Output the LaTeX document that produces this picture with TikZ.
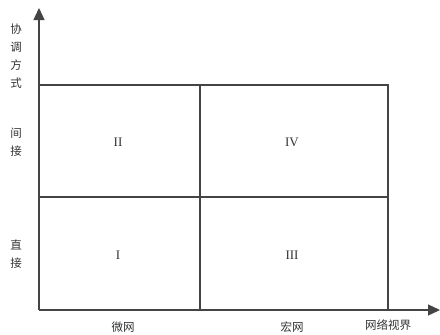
\documentclass[tikz,border=0pt]{standalone}
\usepackage{fontspec}
\newfontfamily\cjk{Noto Sans CJK SC}
\setmainfont{Liberation Serif}
\usetikzlibrary{arrows.meta}
\definecolor{ln}{HTML}{444444}
\definecolor{tx}{HTML}{333333}
\tikzset{
  axis/.style={draw=ln, line width=1.3pt, -{Triangle[length=12pt,width=11pt]}},
  grid/.style={draw=ln, line width=1.1pt},
  lbl/.style={text=tx, font=\cjk\fontsize{11.5}{13}\selectfont, inner sep=0pt},
  rom/.style={text=tx, font=\fontsize{13}{15}\selectfont, inner sep=0pt}
}
\begin{document}
\begin{tikzpicture}[x=1pt,y=-1pt]
\useasboundingbox (0,0) rectangle (440,335);
\coordinate (o) at (39,310);
\coordinate (ytip) at (39,8);
\coordinate (xtip) at (440,310);
\coordinate (tl) at (39,85);
\coordinate (tr) at (388,85);
\coordinate (br) at (388,310);
\coordinate (tm) at (200,85);
\coordinate (bm) at (200,310);
\coordinate (ml) at (39,197);
\coordinate (mr) at (388,197);
\draw[grid] (tl) -- (tr) -- (br);
\draw[grid] (tm) -- (bm);
\draw[grid] (ml) -- (mr);
\draw[axis] (o) -- (ytip);
\draw[axis] (o) -- (xtip);
\node[rom] (q2) at (118,142) {II};
\node[rom] (q4) at (292,142) {IV};
\node[rom] (q1) at (118,255) {I};
\node[rom] (q3) at (292,255) {III};
\node[lbl, align=center] (yl) at (16,56) {协\\[5pt]调\\[5pt]方\\[5pt]式};
\node[lbl, align=center] (y2) at (16,142) {间\\[5pt]接};
\node[lbl, align=center] (y1) at (16,254) {直\\[5pt]接};
\node[lbl] (x1) at (123,327) {微网};
\node[lbl] (x2) at (292,327) {宏网};
\node[lbl] (x3) at (388,325) {网络视界};
\end{tikzpicture}
\end{document}
